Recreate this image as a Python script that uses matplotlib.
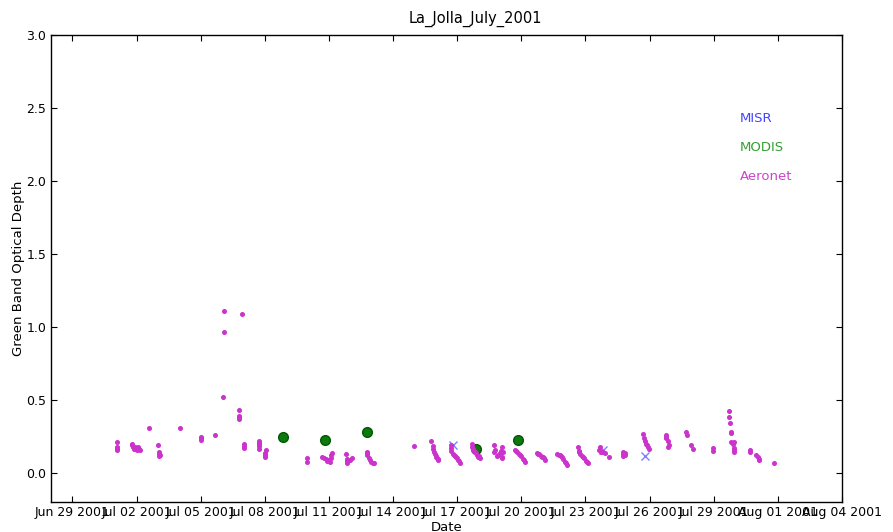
import numpy as np
import pandas as pd
import matplotlib
matplotlib.use("Agg")
import matplotlib.pyplot as plt
import matplotlib.dates as mdates

# days are given as "day of July 2001" with a fraction (1.5 = Jul 01 12:00)
aeronet_day = [1.07, 1.07, 1.075, 1.08, 1.08,
               1.78, 1.80, 1.85, 1.88, 1.92, 1.95, 2.0, 2.05, 2.08, 2.12, 2.16,
               2.6, 3.02, 3.07, 3.07, 3.07, 3.1, 4.05, 5.0, 5.0, 5.0, 5.68,
               6.09, 6.09, 6.06, 6.8, 6.8, 6.8, 6.8, 6.92, 7.04, 7.04, 7.04,
               7.73, 7.73, 7.73, 7.73, 7.73, 8.07, 8.01, 8.01, 8.01,
               9.99, 9.99,
               10.67, 10.76, 10.86, 10.9, 10.95, 11.0, 11.04, 11.09, 11.11, 11.14,
               11.81, 11.83, 11.83, 11.83, 11.89, 11.98, 12.07,
               12.8, 12.8, 12.8, 12.87, 12.91, 12.99, 13.06, 13.1,
               14.99,
               15.76, 15.88, 15.87, 15.91, 15.96, 16.0, 16.02, 16.05, 16.1, 16.12,
               16.69, 16.69, 16.73, 16.8, 16.85, 16.9, 16.94, 16.99, 17.04, 17.08, 17.13,
               17.68, 17.69, 17.74, 17.78, 17.83, 17.88, 17.92, 17.97, 18.01, 18.06,
               18.73, 18.74, 18.77, 18.86, 18.91, 19.0, 19.05, 19.08, 19.08, 19.09, 19.14,
               19.7, 19.75, 19.79, 19.89, 19.94, 19.98, 20.07, 20.12, 20.17,
               20.73, 20.78, 20.82, 20.92, 20.96, 21.01, 21.06, 21.1,
               21.66, 21.76, 21.8, 21.85, 21.9, 21.95, 22.04, 22.08, 22.13,
               22.65, 22.69, 22.71, 22.74, 22.83, 22.88, 22.93, 23.02, 23.06, 23.11,
               23.64, 23.67, 23.71, 23.81, 23.9, 24.09,
               24.77, 24.77, 24.77, 24.85, 24.85,
               25.7, 25.73, 25.78, 25.82, 25.87, 25.91, 25.96,
               26.75, 26.75, 26.76, 26.87, 26.9, 26.84,
               27.68, 27.73, 27.93, 28.04,
               28.98, 28.98,
               29.72, 29.72, 29.77, 29.8, 29.8, 29.8, 29.88, 29.96, 29.97, 29.97, 29.97,
               30.69, 30.69, 30.97, 31.05, 31.1, 31.1,
               31.83]
aeronet_aod = [0.213, 0.18, 0.17, 0.16, 0.155,
               0.2, 0.19, 0.175, 0.16, 0.18, 0.165, 0.155, 0.18, 0.17, 0.16, 0.155,
               0.31, 0.19, 0.145, 0.13, 0.115, 0.12, 0.31, 0.247, 0.238, 0.225, 0.261,
               1.109, 0.963, 0.522, 0.428, 0.39, 0.38, 0.37, 1.088, 0.197, 0.185, 0.172,
               0.22, 0.205, 0.195, 0.185, 0.165, 0.158, 0.135, 0.12, 0.11,
               0.099, 0.072,
               0.108, 0.1, 0.095, 0.08, 0.088, 0.09, 0.074, 0.1, 0.12, 0.135,
               0.13, 0.095, 0.08, 0.065, 0.09, 0.085, 0.1,
               0.145, 0.135, 0.122, 0.1, 0.085, 0.076, 0.07, 0.065,
               0.184,
               0.22, 0.184, 0.163, 0.143, 0.129, 0.115, 0.105, 0.101, 0.088, 0.095,
               0.19, 0.17, 0.15, 0.129, 0.12, 0.115, 0.11, 0.1, 0.09, 0.08, 0.067,
               0.197, 0.177, 0.163, 0.15, 0.14, 0.136, 0.122, 0.108, 0.115, 0.1,
               0.19, 0.143, 0.156, 0.115, 0.125, 0.136, 0.15, 0.18, 0.11, 0.1, 0.143,
               0.156, 0.15, 0.143, 0.129, 0.12, 0.115, 0.095, 0.085, 0.074,
               0.136, 0.13, 0.129, 0.115, 0.11, 0.108, 0.1, 0.088,
               0.129, 0.122, 0.12, 0.115, 0.105, 0.095, 0.074, 0.065, 0.053,
               0.179, 0.15, 0.14, 0.129, 0.115, 0.108, 0.101, 0.081, 0.075, 0.067,
               0.156, 0.179, 0.145, 0.14, 0.134, 0.11,
               0.145, 0.13, 0.115, 0.134, 0.125,
               0.264, 0.236, 0.215, 0.2, 0.19, 0.175, 0.165,
               0.259, 0.245, 0.236, 0.22, 0.19, 0.18,
               0.282, 0.261, 0.193, 0.161,
               0.168, 0.152,
               0.424, 0.382, 0.343, 0.282, 0.27, 0.209, 0.197, 0.209, 0.168, 0.155, 0.145,
               0.156, 0.14, 0.122, 0.11, 0.095, 0.088,
               0.069]

modis_day = [8.85, 10.81, 12.79, 17.88, 19.83]
modis_aod = [0.243, 0.227, 0.282, 0.16, 0.223]

misr_day = [16.79, 23.83, 25.78]
misr_aod = [0.19, 0.156, 0.117]


def to_dates(days):
    return pd.Timestamp("2001-06-30") + pd.to_timedelta(np.array(days), unit="D")


fig = plt.figure(figsize=(8.93, 5.32), dpi=100)
ax = fig.add_axes([0.0571, 0.0564, 0.8858, 0.8778])

ax.plot(to_dates(misr_day), misr_aod, linestyle="none", marker="x",
        color="#7f7fff", markersize=6, mew=1.0, label="MISR")
ax.plot(to_dates(modis_day), modis_aod, linestyle="none", marker="o",
        color="#0a7a0a", mec="#035803", markersize=7, label="MODIS")
ax.plot(to_dates(aeronet_day), aeronet_aod, linestyle="none", marker="o",
        color="#cc33cc", mec="#cc33cc", markersize=2.6, label="Aeronet")

ax.set_xlim(pd.Timestamp("2001-06-28"), pd.Timestamp("2001-08-04"))
ax.set_ylim(-0.2, 3.0)
ax.set_yticks(np.arange(0, 3.01, 0.5))
ax.set_xticks(pd.date_range("2001-06-29", "2001-08-04", freq="3D"))
ax.xaxis.set_major_formatter(mdates.DateFormatter("%b %d %Y"))

ax.tick_params(direction="in", top=True, right=True, length=4, labelsize=9)
ax.tick_params(axis="x", pad=3)
for s in ax.spines.values():
    s.set_linewidth(1.0)

ax.set_title("La_Jolla_July_2001", fontsize=10.5, pad=9, x=0.536)
ax.set_xlabel("Date", fontsize=9.5, labelpad=1)
ax.set_ylabel("Green Band Optical Depth", fontsize=9.5, labelpad=1)

leg = ax.legend(loc="upper left", bbox_to_anchor=(0.856, 0.86), frameon=False,
                handlelength=0, handletextpad=0, labelspacing=1.22, fontsize=9.5)
text_colors = ["#4444ff", "#33a033", "#cc44cc"]
for h, t, c in zip(leg.legend_handles, leg.get_texts(), text_colors):
    h.set_visible(False)
    t.set_color(c)

fig.savefig("out.png", dpi=100)
